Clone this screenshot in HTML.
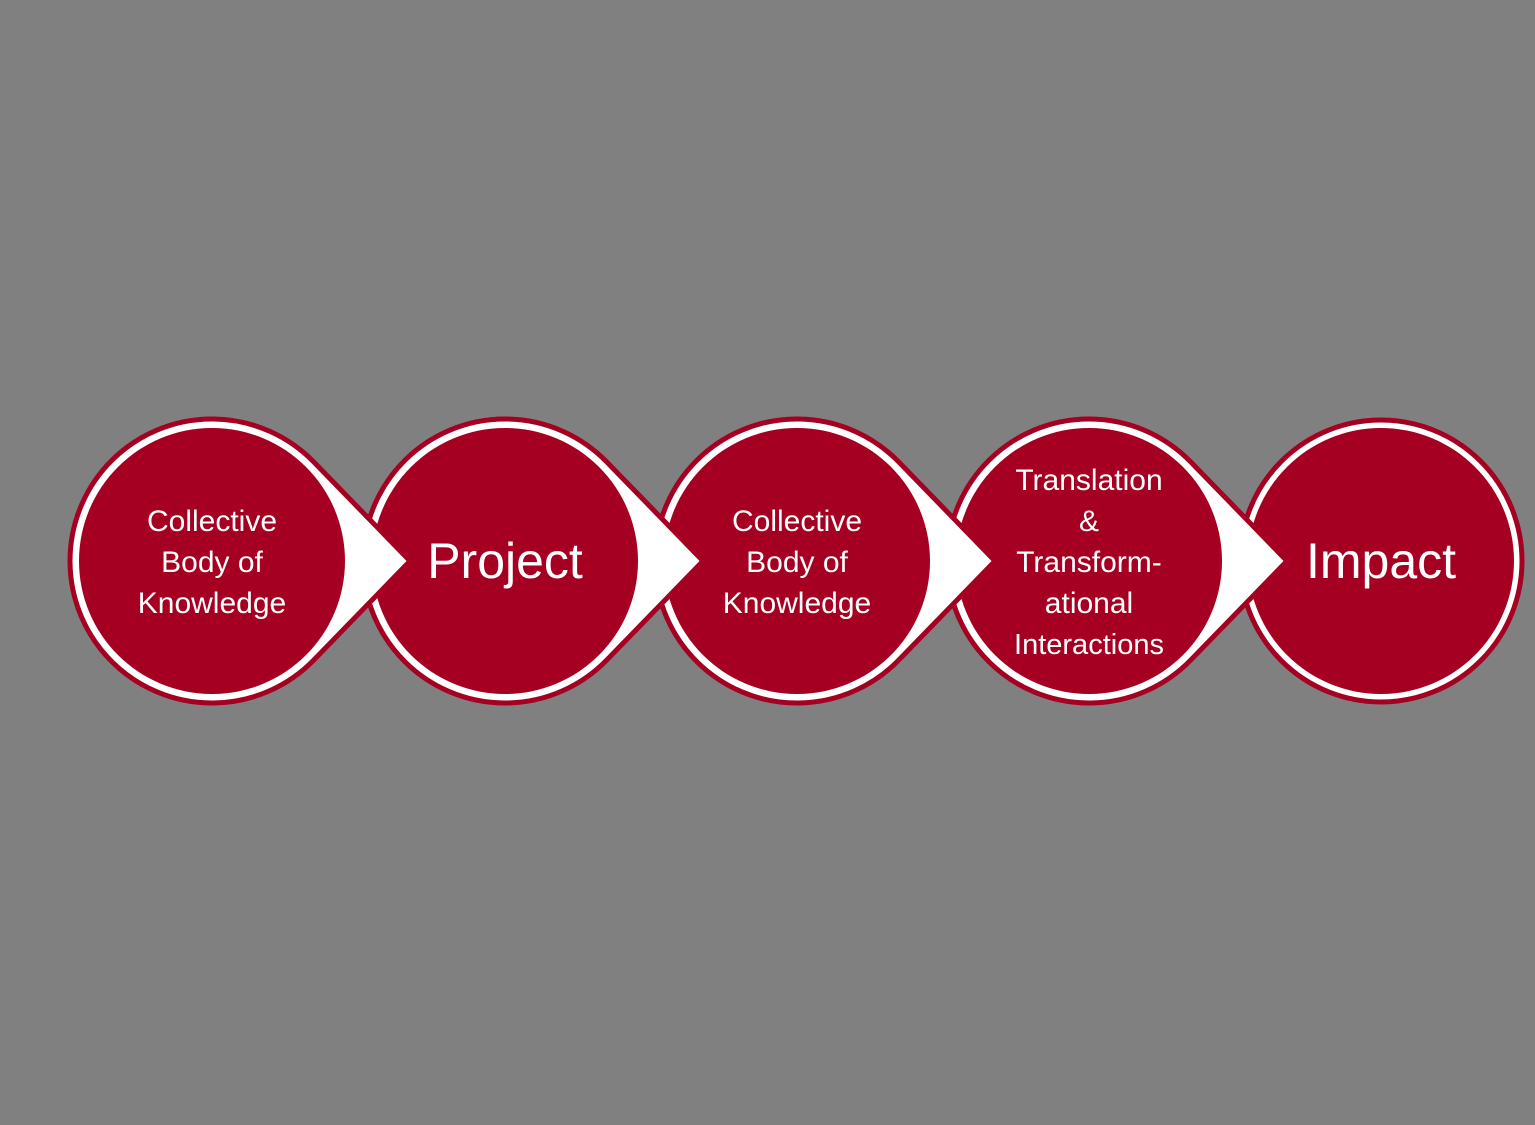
<!DOCTYPE html>
<html><head><style>html,body{margin:0;padding:0;background:#808080;}svg{display:block}</style></head>
<body>
<svg width="1535" height="1125" viewBox="0 0 1535 1125" xmlns="http://www.w3.org/2000/svg">
<rect width="1535" height="1125" fill="#808080"/>
<g stroke="#a50021" stroke-width="5" fill="#fff">
<circle cx="1381" cy="561" r="141"/>
</g>
<circle cx="1381" cy="561" r="133" fill="#a50021"/>
<path d="M1190.8,462 A142,142 0 1 0 1190.8,660 L1287,561 Z" stroke="#a50021" stroke-width="5" fill="#fff"/>
<circle cx="1089" cy="561" r="133" fill="#a50021"/>
<path d="M898.8,462 A142,142 0 1 0 898.8,660 L995,561 Z" stroke="#a50021" stroke-width="5" fill="#fff"/>
<circle cx="797" cy="561" r="133" fill="#a50021"/>
<path d="M606.8,462 A142,142 0 1 0 606.8,660 L703,561 Z" stroke="#a50021" stroke-width="5" fill="#fff"/>
<circle cx="505" cy="561" r="133" fill="#a50021"/>
<path d="M313.8,462 A142,142 0 1 0 313.8,660 L410,561 Z" stroke="#a50021" stroke-width="5" fill="#fff"/>
<circle cx="212" cy="561" r="133" fill="#a50021"/>
<g fill="#fff" font-family="Liberation Sans, sans-serif" text-anchor="middle">
<g font-size="30">
<text x="212" y="531">Collective</text>
<text x="212" y="572">Body of</text>
<text x="212" y="613">Knowledge</text>
<text x="797" y="531">Collective</text>
<text x="797" y="572">Body of</text>
<text x="797" y="613">Knowledge</text>
<text x="1089" y="490">Translation</text>
<text x="1089" y="531">&amp;</text>
<text x="1089" y="572">Transform-</text>
<text x="1089" y="613">ational</text>
<text x="1089" y="654" font-size="29">Interactions</text>
</g>
<g font-size="50">
<text x="505" y="578">Project</text>
<text x="1381" y="578">Impact</text>
</g>
</g>
</svg>
</body></html>
